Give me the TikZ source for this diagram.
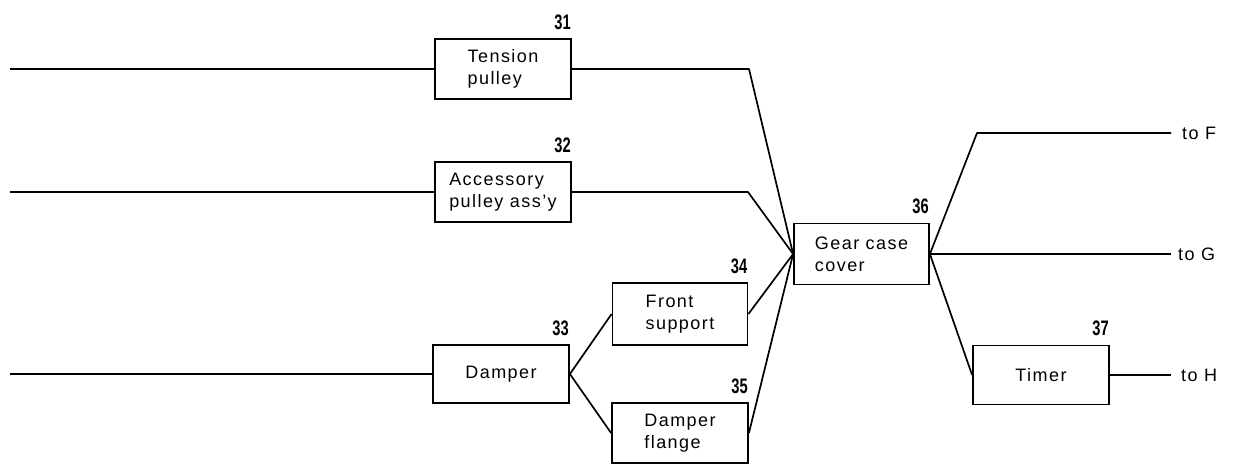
\documentclass[tikz,border=0pt]{standalone}
\usepackage{fontspec}
\setmainfont{Liberation Sans}[LetterSpace=8]
\newfontfamily\numfont{Liberation Sans}[FakeStretch=0.7]
\usetikzlibrary{calc}
\tikzset{
  box/.style={draw, line width=1.8pt, minimum width=136pt, minimum height=60pt, inner sep=0pt, align=left, font=\fontsize{18}{22}\selectfont},
  num/.style={anchor=base east, inner sep=0pt, font=\numfont\bfseries\fontsize{21}{21}\selectfont},
  lbl/.style={anchor=west, inner sep=0pt, font=\fontsize{18}{20}\selectfont},
  wire/.style={line width=1.7pt, line join=round}
}
\begin{document}
\begin{tikzpicture}[x=1pt,y=-1pt]
\useasboundingbox (0,0) rectangle (1236,466);
% boxes
\node[box] (n31) at (503,69) {Tension\\pulley};
\node[box] (n32) at (503,192) {Accessory\\pulley ass'y};
\node[box, minimum height=58pt] (n33) at (501,374) {Damper};
\node[box, minimum width=135pt, minimum height=62pt] (n34) at (680,314) {Front\\support};
\node[box, minimum width=136pt] (n35) at (680,433) {Damper\\flange};
\node[box, minimum width=135pt, minimum height=61pt] (n36) at (861.5,254) {Gear case\\cover};
\node[box, minimum height=59pt] (n37) at (1041,375) {Timer};
% numbers
\foreach \n in {31,32,33,34,35,36,37}{
  \node[num] at ($(n\n.north east)+(-1,-9)$) {\n};
}
% outputs
\node[lbl] (toF) at (1182,133) {to F};
\node[lbl] (toG) at (1178,254) {to G};
\node[lbl] (toH) at (1181,375) {to H};
% free ends
\coordinate (in31) at (10,69);
\coordinate (in32) at (10,192);
\coordinate (in33) at (10,374);
\coordinate (k31) at (749,69);
\coordinate (k32) at (748,192);
\coordinate (kF) at (977,133);
% connectors
\draw[wire] (in31) -- (n31.west);
\draw[wire] (in32) -- (n32.west);
\draw[wire] (in33) -- (n33.west);
\draw[wire] (n31.east) -- (k31) -- (n36.west);
\draw[wire] (n32.east) -- (k32) -- (n36.west);
\draw[wire] (n33.east) -- (n34.west);
\draw[wire] (n33.east) -- (n35.west);
\draw[wire] (n34.east) -- (n36.west);
\draw[wire] (n35.east) -- (n36.west);
\draw[wire] (n36.east) -- (kF) -- ([xshift=-11pt]toF.west);
\draw[wire] (n36.east) -- ([xshift=-7pt]toG.west);
\draw[wire] (n36.east) -- (n37.west);
\draw[wire] (n37.east) -- ([xshift=-10pt]toH.west);
\end{tikzpicture}
\end{document}
